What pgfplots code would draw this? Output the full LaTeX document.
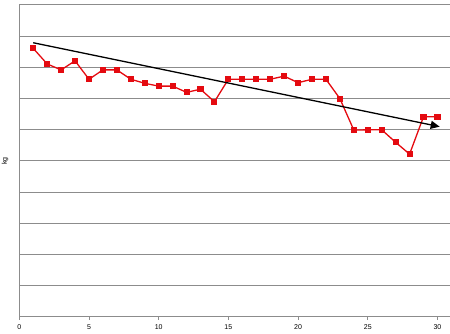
\documentclass[border=0pt]{standalone}
\usepackage{fontspec}
\setmainfont{Liberation Sans}
\usepackage{pgfplots}
\pgfplotsset{compat=1.18}
\usetikzlibrary{arrows.meta}
\definecolor{gridgray}{RGB}{140,140,140}
\definecolor{linered}{RGB}{228,10,16}
\begin{document}
\begin{tikzpicture}
\begin{axis}[
  at={(19.3pt,17pt)}, anchor=south west,
  scale only axis, width=430.7pt, height=312pt,
  xmin=0, xmax=30.9, ymin=0, ymax=10,
  axis x line=bottom, axis y line=left,
  axis line style={gridgray, line width=1pt, -},
  xtick={0,5,...,30}, ytick={0,1,...,10}, yticklabels={},
  major tick length=3pt,
  xtick style={gridgray, line width=0.8pt},
  ytick style={draw=none},
  tick align=outside,
  ymajorgrids, major grid style={gridgray, line width=1pt},
  /pgf/number format/assume math mode=true,
  xticklabel style={font=\fontsize{7}{8}\selectfont, yshift=-1pt},
  ylabel={kg}, ylabel style={font=\fontsize{7}{8}\selectfont, at={(axis description cs:-0.033,0.5)}, anchor=center},
  clip=false,
]
\addplot[color=linered, line width=1.3pt, mark=square*, mark size=2.4pt, mark options={fill=linered}] coordinates {
(1,8.61)(2,8.11)(3,7.92)(4,8.21)(5,7.62)(6,7.92)(7,7.92)(8,7.62)(9,7.49)(10,7.40)
(11,7.40)(12,7.20)(13,7.30)(14,6.90)(15,7.62)(16,7.62)(17,7.62)(18,7.62)(19,7.72)(20,7.51)
(21,7.62)(22,7.62)(23,7.00)(24,5.99)(25,6.00)(26,6.00)(27,5.60)(28,5.22)(29,6.42)(30,6.42)
};
\addplot[black, line width=1.3pt, -{Triangle[length=9pt,width=8pt]}] coordinates {(1,8.79)(30.16,6.10)};
\end{axis}
\pgfresetboundingbox
\path (0,0) rectangle (450pt,334pt);
\end{tikzpicture}
\end{document}
